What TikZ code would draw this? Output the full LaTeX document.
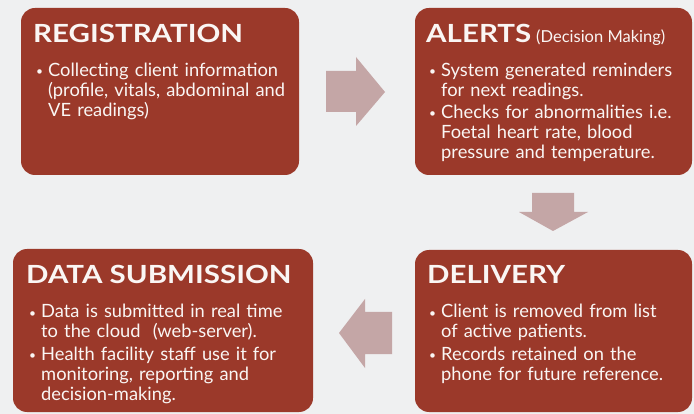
\documentclass[tikz,border=0pt]{standalone}
\usepackage{fontspec}
\setmainfont{Lato}
\newfontfamily\headfont{Lato}[FakeStretch=1.18]
\definecolor{boxred}{RGB}{155,57,42}
\definecolor{arrowpink}{RGB}{196,166,166}
\definecolor{paper}{RGB}{239,240,241}
\definecolor{ink}{RGB}{250,246,244}
% bullet and hanging indent for the item lists
\newcommand\bitem{\hspace*{3pt}\makebox[12pt][l]{\raisebox{1pt}{\fontsize{12}{12}\selectfont•}}}
\newcommand\bcont{\hspace*{15pt}}
\begin{document}
\begin{tikzpicture}[x=1pt,y=-1pt,
  stage/.style={fill=boxred, rounded corners=14pt, inner sep=0pt},
  title/.style={anchor=base west, text=ink, inner sep=0pt,
    font=\headfont\bfseries\fontsize{25}{25}\selectfont},
  body/.style={anchor=base west, text=ink, inner sep=0pt, text width=290pt,
    align=left, font=\fontsize{18.3}{20}\selectfont},
  flow/.style={fill=arrowpink}]
\fill[paper] (0,0) rectangle (694,414);
\useasboundingbox (0,0) rectangle (694,414);

% the four stages
\node[stage, minimum width=278pt, minimum height=167pt] (reg) at (160,91.5) {};
\node[stage, minimum width=277pt, minimum height=167pt] (alr) at (553.5,91.5) {};
\node[stage, minimum width=300pt, minimum height=163pt] (sub) at (163,330.5) {};
\node[stage, minimum width=277pt, minimum height=162pt] (del) at (553.5,331) {};

% titles
\node[title] (regt) at (33,43) {REGISTRATION};
\node[title] (alrt) at (426,43) {ALERTS};
\node[anchor=base west, text=ink, inner sep=0pt, font=\fontsize{16.5}{17}\selectfont]
  (alrs) at (536,43) {(Decision Making)};
\node[title] (subt) at (26,284) {DATA SUBMISSION};
\node[title] (delt) at (427,284) {DELIVERY};

% item lists
\node[body] (regb) at (33,77) {\bitem Collecting client information\\
  \bcont(profile, vitals, abdominal and\\
  \bcont VE readings)};
\node[body] (alrb) at (426,77) {\bitem System generated reminders\\
  \bcont for next readings.\\[1.5pt]
  \bitem Checks for abnormalities i.e.\\
  \bcont Foetal heart rate, blood\\
  \bcont pressure and temperature.};
\node[body] (subb) at (26,318) {\bitem Data is submitted in real time\\
  \bcont to the cloud~~(web-server).\\[3pt]
  \bitem Health facility staff use it for\\
  \bcont monitoring, reporting and\\
  \bcont decision-making.};
\node[body] (delb) at (426,318) {\bitem Client is removed from list\\
  \bcont of active patients.\\[3pt]
  \bitem Records retained on the\\
  \bcont phone for future reference.};

% block arrows between the stages
\fill[flow] (326,71) -- (356,71) -- (356,57) -- (385,92) -- (356,126)
  -- (356,112) -- (326,112) -- cycle;
\fill[flow] (532,193) -- (574,193) -- (574,212) -- (588,212) -- (553,231)
  -- (519,212) -- (532,212) -- cycle;
\fill[flow] (392,312) -- (365,312) -- (365,299) -- (339,333) -- (365,368)
  -- (365,354) -- (392,354) -- cycle;
\end{tikzpicture}
\end{document}
